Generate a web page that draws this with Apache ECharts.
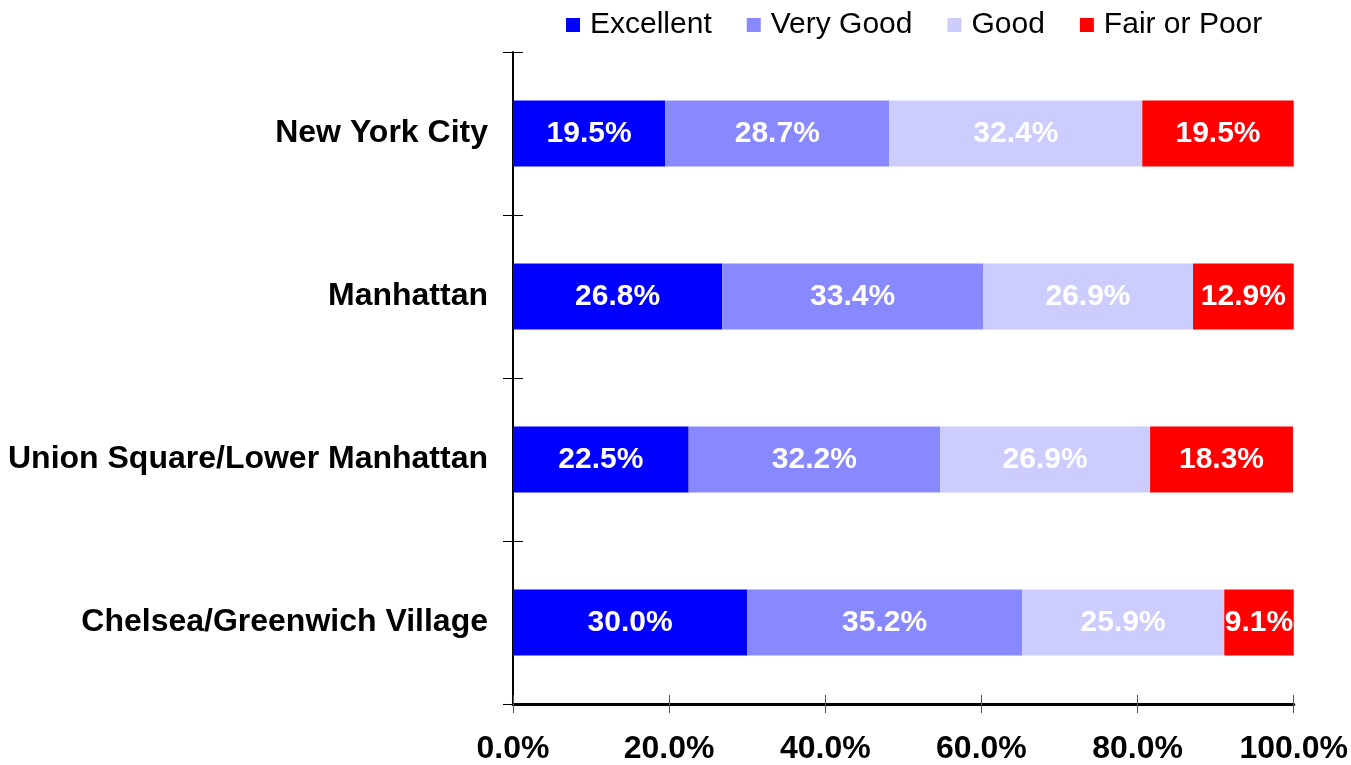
<!DOCTYPE html>
<html>
<head>
<meta charset="utf-8">
<script src="https://cdn.jsdelivr.net/npm/echarts@6/dist/echarts.min.js"></script>
<style>
  html, body { margin: 0; padding: 0; background: #fff; }
  #chart { width: 1351px; height: 765px; }
</style>
</head>
<body>
<div id="chart"></div>
<script>
// areas, top to bottom
const areas = ["New York City", "Manhattan", "Union Square/Lower Manhattan", "Chelsea/Greenwich Village"];
const excellent = [19.5, 26.8, 22.5, 30.0];
const veryGood = [28.7, 33.4, 32.2, 35.2];
const good = [32.4, 26.9, 26.9, 25.9];
const fairPoor = [19.5, 12.9, 18.3, 9.1];
const xTicks = [0, 20, 40, 60, 80, 100];

const font = "'Liberation Sans', Arial, sans-serif";

function makeSeries(name, data, color) {
  return {
    name: name,
    type: "bar",
    stack: "total",
    xAxisIndex: 0,
    yAxisIndex: 0,
    barWidth: 66,
    data: data,
    itemStyle: { color: color },
    label: {
      show: true,
      position: "inside",
      color: "#fff",
      fontFamily: font,
      fontWeight: "bold",
      fontSize: 30,
      formatter: (p) => p.value.toFixed(1) + "%",
    },
  };
}

const myChart = echarts.init(document.getElementById("chart"));
myChart.setOption({
  animation: false,
  legend: {
    top: 5,
    left: 561,
    itemWidth: 14,
    itemHeight: 14,
    itemGap: 35,
    icon: "rect",
    textStyle: { fontFamily: font, fontSize: 30, color: "#000", padding: [0, 0, 0, 5] },
  },
  grid: { left: 513, right: 53, top: 52, bottom: 60, containLabel: false },
  xAxis: [
    {
      type: "value",
      min: xTicks[0],
      max: xTicks[xTicks.length - 1],
      interval: 20,
      splitLine: { show: false },
      axisLine: { show: true, lineStyle: { color: "#000", width: 3 } },
      axisTick: { show: true, length: 9, lineStyle: { color: "#555", width: 1 } },
      axisLabel: {
        margin: 29,
        color: "#000",
        fontFamily: font,
        fontWeight: "bold",
        fontSize: 32,
        formatter: (v) => v.toFixed(1) + "%",
      },
    },
    {
      // inner half of the crossing ticks
      type: "value",
      position: "bottom",
      min: xTicks[0],
      max: xTicks[xTicks.length - 1],
      interval: 20,
      splitLine: { show: false },
      axisLine: { show: false },
      axisTick: { show: true, inside: true, length: 9, lineStyle: { color: "#555", width: 1 } },
      axisLabel: { show: false },
    },
  ],
  yAxis: [
    {
      type: "category",
      inverse: true,
      data: areas,
      axisLine: { show: true, lineStyle: { color: "#000", width: 2 } },
      axisTick: { show: true, length: 10, lineStyle: { color: "#000", width: 1 } },
      axisLabel: {
        margin: 25,
        color: "#000",
        fontFamily: font,
        fontWeight: "bold",
        fontSize: 32,
      },
    },
    {
      type: "category",
      position: "left",
      inverse: true,
      data: areas,
      axisLine: { show: false },
      axisTick: { show: true, inside: true, length: 10, lineStyle: { color: "#000", width: 1 } },
      axisLabel: { show: false },
    },
  ],
  series: [
    makeSeries("Excellent", excellent, "#0000ff"),
    makeSeries("Very Good", veryGood, "#8888ff"),
    makeSeries("Good", good, "#ccccff"),
    makeSeries("Fair or Poor", fairPoor, "#ff0000"),
  ],
});
</script>
</body>
</html>
